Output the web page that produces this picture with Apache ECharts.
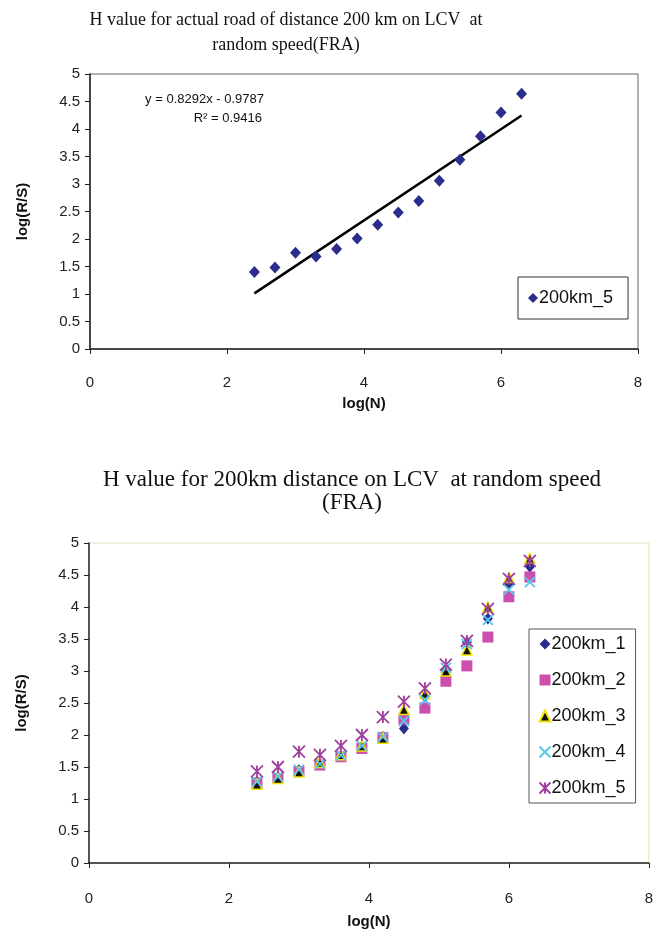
<!DOCTYPE html>
<html>
<head>
<meta charset="utf-8">
<title>H value FRA</title>
<script src="https://cdn.jsdelivr.net/npm/echarts@6/dist/echarts.min.js"></script>
<style>
    html, body { margin: 0; padding: 0; background: #fff; }
    #chart { width: 656px; height: 940px; }
</style>
</head>
<body>
<div id="chart"></div>
<script>
// log(N) positions, same for every series
const logN = [2.4, 2.7, 3.0, 3.3, 3.6, 3.9, 4.2, 4.5, 4.8, 5.1, 5.4, 5.7, 6.0, 6.3];

// top chart : actual road, 200km_5 + linear trend
const actual5 = [1.40, 1.48, 1.75, 1.68, 1.82, 2.01, 2.26, 2.48, 2.69, 3.06, 3.44, 3.87, 4.30, 4.64];
const trendSlope = 0.8292;
const trendIntercept = -0.9787;
const trendR2 = 0.9416;

// bottom chart : five runs
const km1 = [1.27, 1.34, 1.45, 1.55, 1.67, 1.82, 1.97, 2.10, 2.60, 3.00, 3.45, 3.82, 4.35, 4.63];
const km2 = [1.25, 1.32, 1.43, 1.53, 1.66, 1.79, 1.96, 2.25, 2.42, 2.84, 3.08, 3.53, 4.16, 4.47];
const km3 = [1.23, 1.32, 1.42, 1.57, 1.69, 1.83, 1.95, 2.40, 2.65, 3.00, 3.33, 4.00, 4.46, 4.76];
const km4 = [1.27, 1.35, 1.46, 1.55, 1.68, 1.83, 1.97, 2.22, 2.55, 3.05, 3.42, 3.80, 4.27, 4.39];
const km5 = [1.43, 1.50, 1.74, 1.69, 1.83, 2.00, 2.28, 2.52, 2.73, 3.10, 3.47, 3.97, 4.44, 4.72];
const seriesNames = ['200km_1', '200km_2', '200km_3', '200km_4', '200km_5'];

// axis ticks
const xMax = 8, xStep = 2;
const yMax = 5, yStep = 0.5;

const titleTop = 'H value for actual road of distance 200 km on LCV  at\nrandom speed(FRA)';
const titleBottom = 'H value for 200km distance on LCV  at random speed\n(FRA)';

const sans = 'Liberation Sans, Arial, sans-serif';
const serif = 'Liberation Serif, Times New Roman, serif';

function pairs(arr) {
    return logN.map((x, i) => [x, arr[i]]);
}

const trendData = [logN[0], logN[logN.length - 1]].map(x => [x, trendSlope * x + trendIntercept]);

function xAxisFor(gridIndex, gap, margin) {
    return {
        type: 'value', gridIndex: gridIndex, min: 0, max: xMax, interval: xStep,
        name: 'log(N)', nameLocation: 'middle', nameGap: gap,
        nameTextStyle: { fontFamily: sans, fontSize: 15, fontWeight: 'bold', color: '#111' },
        axisLine: { onZero: false, lineStyle: { color: '#222', width: 1.5 } },
        axisTick: { show: true, length: 5, lineStyle: { color: '#222' } },
        axisLabel: { margin: margin, fontFamily: sans, fontSize: 15, color: '#222' },
        splitLine: { show: false }
    };
}

function yAxisFor(gridIndex) {
    return {
        type: 'value', gridIndex: gridIndex, min: 0, max: yMax, interval: yStep,
        name: 'log(R/S)', nameLocation: 'middle', nameGap: 60,
        nameTextStyle: { fontFamily: sans, fontSize: 15, fontWeight: 'bold', color: '#111' },
        axisLine: { onZero: false, lineStyle: { color: '#222', width: 1.5 } },
        axisTick: { show: true, length: 5, lineStyle: { color: '#222' } },
        axisLabel: { margin: 10, fontFamily: sans, fontSize: 15, color: '#222' },
        splitLine: { show: false }
    };
}

const chart = echarts.init(document.getElementById('chart'), null, { renderer: 'canvas' });

const option = {
    backgroundColor: '#fff',
    animation: false,
    title: [
        {
            text: titleTop, left: 281, top: 3, textAlign: 'center',
            textStyle: { fontFamily: serif, fontSize: 18, fontWeight: 'normal', color: '#111', lineHeight: 25 }
        },
        {
            text: titleBottom, left: 347, top: 463, textAlign: 'center',
            textStyle: { fontFamily: serif, fontSize: 23, fontWeight: 'normal', color: '#111', lineHeight: 23 }
        }
    ],
    grid: [
        { left: 90, right: 18, top: 74, height: 275, show: true, borderColor: '#999', borderWidth: 1.5, backgroundColor: '#fff' },
        { left: 89, right: 6, top: 543, height: 320, show: true, borderColor: '#d6e8b8', borderWidth: 1, backgroundColor: '#fff' }
    ],
    xAxis: [xAxisFor(0, 47, 26), xAxisFor(1, 51, 28)],
    yAxis: [yAxisFor(0), yAxisFor(1)],
    legend: [
        {
            data: ['200km_5 '], left: 518, top: 277, padding: [12, 10],
            itemWidth: 10, itemHeight: 10, itemGap: 0,
            borderColor: '#333', borderWidth: 1, backgroundColor: '#fff',
            textStyle: { fontFamily: sans, fontSize: 18, color: '#111', padding: [0, 0, 0, -4] }
        },
        {
            data: seriesNames, orient: 'vertical', left: 529, top: 629, padding: [6, 10, 6, 8],
            itemWidth: 11, itemHeight: 11, itemGap: 18,
            borderColor: '#555', borderWidth: 1, backgroundColor: '#fff',
            textStyle: { fontFamily: sans, fontSize: 18, color: '#111', padding: [0, 0, 0, -4] }
        }
    ],
    graphic: [
        {
            type: 'text', right: 392, top: 93,
            style: { text: 'y = 0.8292x - 0.9787', font: '13px ' + sans, fill: '#111', textAlign: 'right' }
        },
        {
            type: 'text', right: 394, top: 112,
            style: { text: 'R\u00b2 = ' + trendR2, font: '13px ' + sans, fill: '#111', textAlign: 'right' }
        }
    ],
    series: [
        {
            name: 'trend', type: 'line', xAxisIndex: 0, yAxisIndex: 0,
            data: trendData, symbol: 'none', silent: true,
            lineStyle: { color: '#000', width: 2.5 }, z: 1
        },
        {
            name: '200km_5 ', type: 'scatter', xAxisIndex: 0, yAxisIndex: 0,
            data: pairs(actual5), symbol: 'diamond', symbolSize: [11, 12],
            itemStyle: { color: '#2b2d8c', opacity: 1 }, z: 3
        },
        {
            name: seriesNames[0], type: 'scatter', xAxisIndex: 1, yAxisIndex: 1,
            data: pairs(km1), symbol: 'diamond', symbolSize: [10, 12],
            itemStyle: { color: '#2b2d8c', opacity: 1 }
        },
        {
            name: seriesNames[1], type: 'scatter', xAxisIndex: 1, yAxisIndex: 1,
            data: pairs(km2), symbol: 'rect', symbolSize: 11,
            itemStyle: { color: '#cc4fae', opacity: 1 }
        },
        {
            name: seriesNames[2], type: 'scatter', xAxisIndex: 1, yAxisIndex: 1,
            data: pairs(km3), symbol: 'triangle', symbolSize: 10,
            itemStyle: { color: '#111', borderColor: '#f2e600', borderWidth: 1.5, opacity: 1 }
        },
        {
            name: seriesNames[3], type: 'scatter', xAxisIndex: 1, yAxisIndex: 1,
            data: pairs(km4), symbol: 'path://M0,0L10,10M10,0L0,10', symbolSize: 10,
            itemStyle: { color: 'none', borderColor: '#55c8ec', borderWidth: 1.8, opacity: 1 }
        },
        {
            name: seriesNames[4], type: 'scatter', xAxisIndex: 1, yAxisIndex: 1,
            data: pairs(km5), symbol: 'path://M0,0L10,10M10,0L0,10M5,0L5,10', symbolSize: 12,
            itemStyle: { color: 'none', borderColor: '#a0409e', borderWidth: 1.8, opacity: 1 }
        }
    ]
};

chart.setOption(option);
</script>
</body>
</html>
